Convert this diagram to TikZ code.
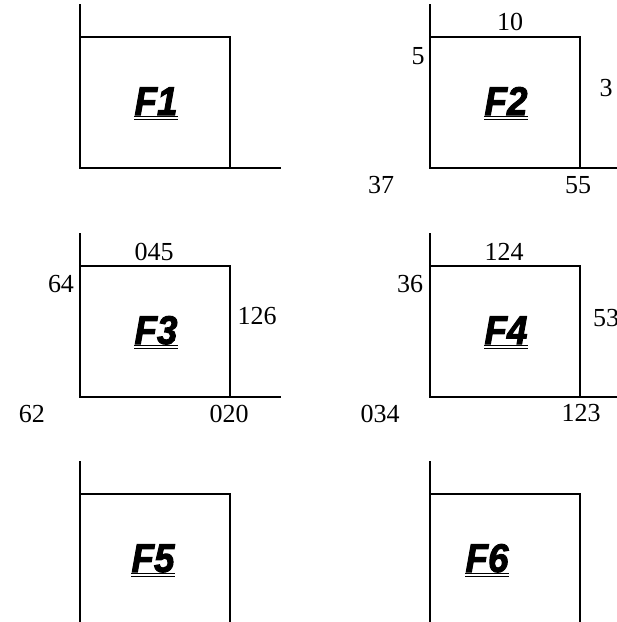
\documentclass[tikz,border=0pt]{standalone}
\usepackage{fontspec}
\setmainfont{Liberation Serif}
\newfontfamily\flabfont{Liberation Sans}[BoldItalicFeatures={FakeBold=2.5}]
\tikzset{
  ln/.style={line width=1.2pt, line cap=rect},
  num/.style={font=\fontsize{26}{26}\selectfont, inner sep=0pt},
  flab/.style={font=\fontsize{40}{40}\flabfont\bfseries\itshape, inner sep=0pt, anchor=base, xscale=0.92},
  uline/.style={line width=1.1pt}
}
\newcommand{\panelbox}[2]{%
  \draw[ln] (#1,#2-32) -- (#1,#2+131);
  \draw[ln] (#1,#2) -- (#1+150,#2) -- (#1+150,#2+131);
  \draw[ln] (#1,#2+131) -- (#1+200,#2+131);
}
\newcommand{\flabel}[4]{%
  \node[flab] (#1) at (#2,#3) {#4};
  \draw[uline] ([yshift=-1.8pt]#1.base west) -- ([yshift=-1.8pt]#1.base east);
  \draw[uline] ([yshift=-4.4pt]#1.base west) -- ([yshift=-4.4pt]#1.base east);
}
\begin{document}
\begin{tikzpicture}[x=1pt,y=-1pt]
\useasboundingbox (0,0) rectangle (617,622);
\clip (0,0) rectangle (617,622);
% panels
\panelbox{80}{37}
\panelbox{430}{37}
\panelbox{80}{266}
\panelbox{430}{266}
\panelbox{80}{494}
\panelbox{430}{494}
% F labels
\flabel{f1}{156}{115}{F1}
\flabel{f2}{506}{115}{F2}
\flabel{f3}{156}{344}{F3}
\flabel{f4}{506}{344}{F4}
\flabel{f5}{153}{572}{F5}
\flabel{f6}{487}{572}{F6}
% numbers panel 2
\node[num] (n10) at (510,22) {10};
\node[num] (n5) at (418,56) {5};
\node[num] (n3) at (606,88) {3};
\node[num] (n37) at (381,185) {37};
\node[num] (n55) at (578,185) {55};
% numbers panel 3
\node[num] (n045) at (154,252) {045};
\node[num] (n64) at (61,284) {64};
\node[num] (n126) at (257,316) {126};
\node[num] (n62) at (32,414) {62};
\node[num] (n020) at (229,414) {020};
% numbers panel 4
\node[num] (n124) at (504,252) {124};
\node[num] (n36) at (410,284) {36};
\node[num] (n53) at (606,318) {53};
\node[num] (n034) at (380,414) {034};
\node[num] (n123) at (581,413) {123};
\end{tikzpicture}
\end{document}
